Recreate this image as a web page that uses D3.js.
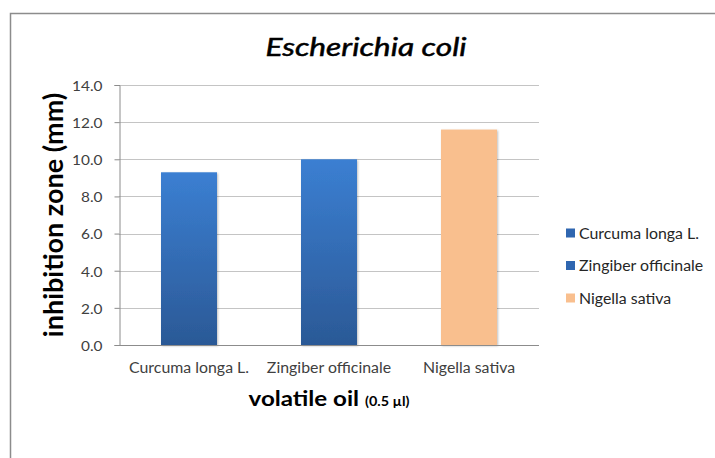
<!DOCTYPE html>
<html>
<head>
<meta charset="utf-8">
<script src="https://cdn.jsdelivr.net/npm/d3@7"></script>
<style>
  html, body { margin: 0; padding: 0; background: #fff; }
  svg { display: block; }
  text { font-family: Lato, "Open Sans", sans-serif; }
</style>
</head>
<body>
<svg id="chart" width="715" height="458"></svg>
<script>
// Inhibition zone of each volatile oil against E. coli
const categories = ["Curcuma longa L.", "Zingiber officinale", "Nigella sativa"];
const values = [9.3, 10.0, 11.6];
const seriesColors = ["blue", "blue", "peach"];
const yTicks = [0, 2, 4, 6, 8, 10, 12, 14];

const svg = d3.select("#chart");
const margin = { left: 119, right: 176, top: 85, bottom: 113 };
const W = 715, H = 458;

// outer chart frame (runs off the right and bottom edges)
svg.append("rect")
  .attr("x", 10.5).attr("y", 13.5)
  .attr("width", 760).attr("height", 500)
  .attr("fill", "#fff").attr("stroke", "#8c8c8c").attr("stroke-width", 1.5);

const defs = svg.append("defs");
const grad = defs.append("linearGradient").attr("id", "blueGrad")
  .attr("x1", 0).attr("y1", 0).attr("x2", 0).attr("y2", 1);
grad.append("stop").attr("offset", "0%").attr("stop-color", "#3b7fd2");
grad.append("stop").attr("offset", "100%").attr("stop-color", "#2b5996");

const shadow = defs.append("filter").attr("id", "barShadow")
  .attr("x", "-20%").attr("y", "-5%").attr("width", "140%").attr("height", "110%");
shadow.append("feDropShadow").attr("dx", 1).attr("dy", 1)
  .attr("stdDeviation", 1.2).attr("flood-color", "#000").attr("flood-opacity", 0.25);

const fills = { blue: "url(#blueGrad)", peach: "#f9bf8e" };
const legendFills = { blue: "#2f66b0", peach: "#f9bf8e" };

// text in this chart is set slightly wide
function widen(sel, sx) {
  sel.each(function () {
    const t = d3.select(this);
    const x0 = +t.attr("x") || 0;
    t.attr("x", x0 / sx).attr("transform", `scale(${sx},1)`);
  });
}

const x = d3.scaleBand().domain(categories)
  .range([margin.left, W - margin.right]).paddingInner(0.6).paddingOuter(0.3);
const y = d3.scaleLinear().domain([0, 14]).range([H - margin.bottom, margin.top]);

// horizontal gridlines
svg.append("g").selectAll("line").data(yTicks.slice(1)).join("line")
  .attr("x1", margin.left).attr("x2", W - margin.right)
  .attr("y1", d => Math.round(y(d)) + 0.5).attr("y2", d => Math.round(y(d)) + 0.5)
  .attr("stroke", "#c4c4c4").attr("stroke-width", 1.2);

// y axis
const yAxis = svg.append("g")
  .attr("transform", `translate(${margin.left + 0.5},0)`)
  .call(d3.axisLeft(y).tickValues(yTicks).tickFormat(d3.format(".1f")).tickSize(5).tickPadding(12));
yAxis.select(".domain").attr("stroke", "#8c8c8c");
yAxis.selectAll(".tick line").attr("stroke", "#8c8c8c");
yAxis.selectAll(".tick text").attr("fill", "#404040").style("font-size", "14px")
  .style("font-family", "Lato, sans-serif").attr("dy", "0.38em");
widen(yAxis.selectAll(".tick text"), 1.1);

// bars
svg.append("g").selectAll("rect").data(categories).join("rect")
  .attr("x", d => x(d))
  .attr("width", x.bandwidth())
  .attr("y", (d, i) => y(values[i]))
  .attr("height", (d, i) => y(0) - y(values[i]))
  .attr("fill", (d, i) => fills[seriesColors[i]])
  .attr("filter", "url(#barShadow)");

// x axis
const xAxis = svg.append("g")
  .attr("transform", `translate(0,${y(0) + 0.5})`)
  .call(d3.axisBottom(x).tickSize(0).tickPadding(17));
xAxis.select(".domain").attr("stroke", "#8c8c8c").attr("d", `M${margin.left},0H${W - margin.right}`);
xAxis.selectAll(".tick text").attr("fill", "#404040").style("font-size", "15px")
  .style("font-family", "Lato, sans-serif");
widen(xAxis.selectAll(".tick text"), 1.06);

// title
const title = svg.append("g").attr("transform", "translate(366,56)");
title.append("text")
  .attr("text-anchor", "middle")
  .style("font-size", "26px").style("font-style", "italic")
  .attr("fill", "#000").attr("stroke", "#000").attr("stroke-width", 0.5)
  .attr("transform", "scale(1.22,1)")
  .text("Escherichia coli");

// y axis title
svg.append("text")
  .attr("transform", `translate(63,${(y(0) + y(14)) / 2}) rotate(-90)`)
  .attr("text-anchor", "middle")
  .style("font-size", "27px").style("font-weight", "bold")
  .attr("fill", "#000")
  .text("inhibition zone (mm)");

// x axis title
const xtg = svg.append("g").attr("transform", "translate(329,406)");
const xt = xtg.append("text")
  .attr("text-anchor", "middle")
  .attr("transform", "scale(1.15,1)")
  .attr("fill", "#000");
xt.append("tspan").style("font-size", "21px").style("font-weight", "bold").text("volatile oil ");
xt.append("tspan").style("font-size", "12.5px").style("font-weight", "bold").text("(0.5 µl)");

// legend
const legend = svg.append("g").selectAll("g").data(categories).join("g")
  .attr("transform", (d, i) => `translate(566,${233 + i * 32.5})`);
legend.append("rect")
  .attr("x", 0).attr("y", -4.5).attr("width", 9).attr("height", 9)
  .attr("fill", (d, i) => legendFills[seriesColors[i]]);
legend.append("text")
  .attr("x", 13).attr("y", 5.5)
  .attr("fill", "#262626")
  .style("font-size", "15px")
  .text(d => d);
widen(legend.selectAll("text"), 1.06);
</script>
</body>
</html>
